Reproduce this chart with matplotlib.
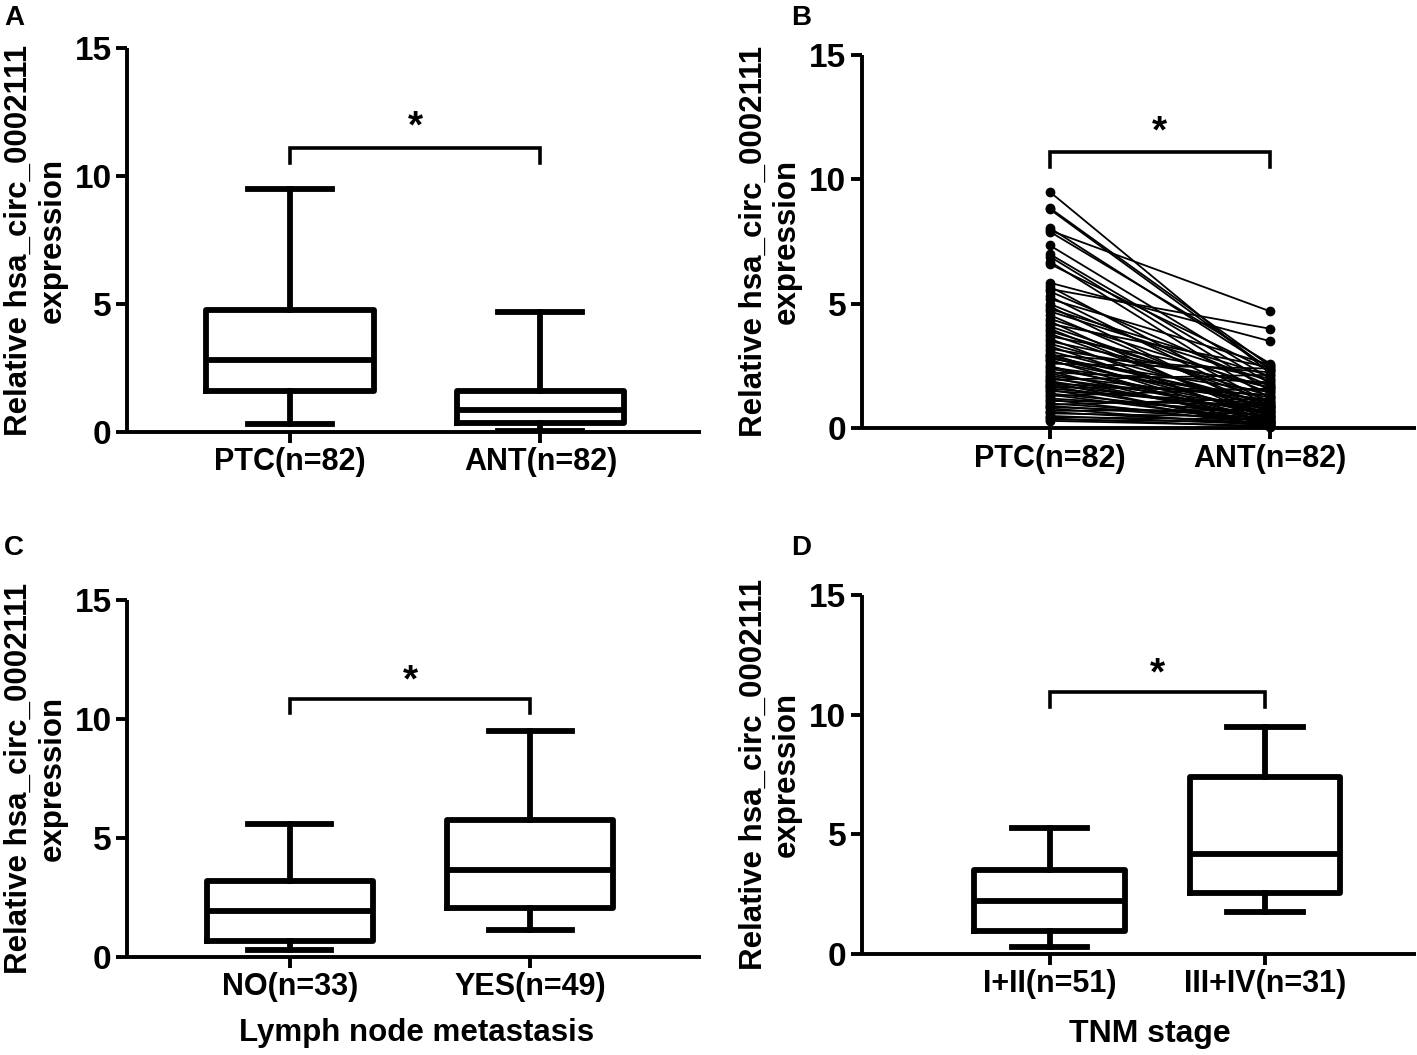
import matplotlib
matplotlib.use("Agg")
import matplotlib.pyplot as plt
from matplotlib import font_manager

# ---- data ----
groups_a = ["PTC(n=82)", "ANT(n=82)"]
whislo_a = [0.3, 0.05]
q1_a = [1.6, 0.35]
med_a = [2.8, 0.85]
q3_a = [4.75, 1.6]
whishi_a = [9.5, 4.7]

groups_b = ["PTC(n=82)", "ANT(n=82)"]
ptc_b = [9.5, 8.85, 8.8, 8.05, 7.95, 7.9, 7.35, 7.0, 6.9, 6.7, 6.6,
         5.85, 5.7, 5.6, 5.5, 5.3, 5.2, 5.0, 4.9, 4.8, 4.7, 4.55, 4.4,
         4.3, 4.2, 4.1, 4.0, 3.9, 3.8, 3.7, 3.6, 3.5, 3.4, 3.3, 3.2, 3.1,
         3.0, 2.95, 2.9, 2.85, 2.8, 2.75, 2.7, 2.6, 2.5, 2.45, 2.4, 2.3,
         2.25, 2.2, 2.1, 2.05, 2.0, 1.95, 1.9, 1.85, 1.8, 1.75, 1.7, 1.65,
         1.6, 1.55, 1.5, 1.4, 1.35, 1.3, 1.2, 1.15, 1.1, 1.0, 0.95, 0.9,
         0.85, 0.8, 0.7, 0.65, 0.6, 0.5, 0.45, 0.4, 0.35, 0.3]
ant_b = [2.2, 2.5, 2.35, 2.4, 4.7, 2.6, 2.0, 1.8, 1.5, 1.2, 2.3,
         3.5, 1.0, 4.0, 1.7, 0.9, 2.55, 1.4, 0.6, 2.1, 1.9, 0.8, 1.6,
         0.3, 2.45, 1.1, 0.5, 1.3, 0.7, 2.0, 0.25, 1.65, 0.95, 0.4, 1.75,
         0.85, 0.2, 2.25, 1.05, 0.6, 1.45, 0.15, 0.9, 2.4, 0.35, 1.25,
         0.75, 0.1, 1.85, 0.55, 1.15, 0.3, 0.85, 2.15, 0.45, 0.05, 1.35,
         0.7, 0.2, 1.55, 0.8, 0.1, 1.0, 0.5, 0.25, 1.6, 0.65, 0.15, 0.95,
         0.4, 1.2, 0.3, 0.55, 0.1, 0.75, 0.2, 0.45, 0.15, 0.35, 0.05,
         0.25, 0.1]

groups_c = ["NO(n=33)", "YES(n=49)"]
whislo_c = [0.3, 1.15]
q1_c = [0.65, 2.05]
med_c = [1.95, 3.65]
q3_c = [3.2, 5.75]
whishi_c = [5.6, 9.5]

groups_d = ["I+II(n=51)", "III+IV(n=31)"]
whislo_d = [0.3, 1.75]
q1_d = [0.95, 2.55]
med_d = [2.2, 4.2]
q3_d = [3.5, 7.4]
whishi_d = [5.25, 9.5]

ylabel = "Relative hsa_circ_0002111\nexpression"

installed = {f.name for f in font_manager.fontManager.ttflist}
NARROW = ["Liberation Sans Narrow", "Liberation Sans"] if "Liberation Sans Narrow" in installed else ["Liberation Sans"]
plt.rcParams["font.family"] = ["Liberation Sans", "DejaVu Sans"]
plt.rcParams["font.weight"] = "bold"

LW = 4.2


def style_axes(ax, xlim, labels):
    ax.set_xlim(*xlim)
    ax.set_ylim(0, 15)
    ax.set_yticks([0, 5, 10, 15])
    ax.set_xticks([1, 2])
    ax.set_xticklabels(labels, family=NARROW, fontsize=22, fontweight="bold")
    for t in ax.get_yticklabels():
        t.set_family(NARROW)
        t.set_fontsize(24)
        t.set_fontweight("bold")
    for s in ("top", "right"):
        ax.spines[s].set_visible(False)
    for s in ("left", "bottom"):
        ax.spines[s].set_linewidth(2.8)
        ax.spines[s].set_capstyle("butt")
    ax.spines["left"].set_bounds(0, 15)
    ax.tick_params(axis="both", width=2.8, length=8, pad=3)
    ax.set_ylabel(ylabel, fontsize=22.5, fontweight="bold", labelpad=5,
                  linespacing=1.15)


def draw_box(ax, wl, q1, md, q3, wh, width):
    stats = []
    for i in range(len(md)):
        stats.append({"whislo": wl[i], "q1": q1[i], "med": md[i],
                      "q3": q3[i], "whishi": wh[i]})
    lp = dict(color="black", linewidth=LW)
    ax.bxp(stats, positions=[1, 2], widths=width, showfliers=False,
           boxprops=lp, medianprops=lp, whiskerprops=lp,
           capprops=lp, capwidths=width * 0.5, manage_ticks=False)


def bracket(ax, y, drop, star_y):
    ax.plot([1, 1, 2, 2], [y - drop, y, y, y - drop], color="black",
            linewidth=2.6, solid_joinstyle="miter", clip_on=False)
    ax.text(1.5, star_y, "*", ha="center", va="center", fontsize=28,
            fontweight="bold")


fig = plt.figure(figsize=(14.17, 10.55), dpi=100)

# panel A
ax_a = fig.add_axes([0.0896, 0.5905, 0.405, 0.364])
draw_box(ax_a, whislo_a, q1_a, med_a, q3_a, whishi_a, 0.67)
bracket(ax_a, 11.1, 0.6, 11.9)
style_axes(ax_a, (0.35, 2.64), groups_a)

# panel B
ax_b = fig.add_axes([0.608, 0.594, 0.391, 0.354])
for p, a in zip(ptc_b, ant_b):
    ax_b.plot([1, 2], [p, a], color="black", linewidth=1.3,
              marker="o", markersize=6, clip_on=False)
bracket(ax_b, 11.1, 0.6, 11.9)
style_axes(ax_b, (0.146, 2.66), groups_b)

# panel C
ax_c = fig.add_axes([0.0896, 0.093, 0.405, 0.338])
draw_box(ax_c, whislo_c, q1_c, med_c, q3_c, whishi_c, 0.69)
bracket(ax_c, 10.85, 0.6, 11.6)
style_axes(ax_c, (0.322, 2.71), groups_c)
ax_c.set_xlabel("Lymph node metastasis", fontsize=22.5, fontweight="bold")
ax_c.xaxis.set_label_coords(0.505, -0.172)

# panel D
ax_d = fig.add_axes([0.608, 0.0957, 0.391, 0.340])
draw_box(ax_d, whislo_d, q1_d, med_d, q3_d, whishi_d, 0.70)
bracket(ax_d, 10.95, 0.6, 11.7)
style_axes(ax_d, (0.126, 2.70), groups_d)
ax_d.set_xlabel("TNM stage", family=NARROW, fontsize=23, fontweight="bold")
ax_d.xaxis.set_label_coords(0.52, -0.18)

for lab, x, y in [("A", 0.003, 0.983), ("B", 0.558, 0.983),
                  ("C", 0.003, 0.481), ("D", 0.558, 0.481)]:
    fig.text(x, y, lab, fontsize=20, fontweight="bold", ha="left", va="center")

fig.savefig("out.png", dpi=100)
